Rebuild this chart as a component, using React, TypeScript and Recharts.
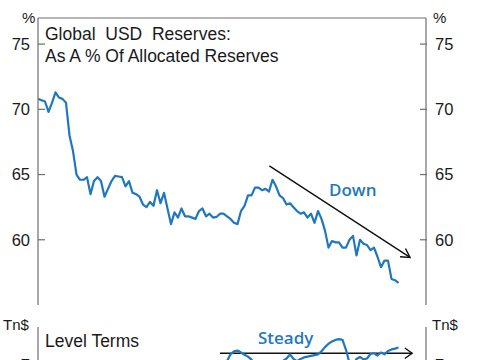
import React from 'react';
import { LineChart, Line, XAxis, YAxis, ReferenceLine } from 'recharts';

// Global USD reserves as % of allocated reserves (quarterly)
const reservesShare: number[] = [
  70.8, 70.7, 70.6, 69.8, 70.5, 71.3, 70.9, 70.8, 70.5, 68.0,
  66.8, 65.0, 64.6, 64.6, 64.8, 63.5, 64.5, 64.8, 64.5, 63.3,
  63.9, 64.5, 64.9, 64.85, 64.8, 64.1, 64.5, 63.6, 63.5, 63.3,
  62.7, 62.5, 62.9, 62.6, 63.8, 62.8, 63.6, 62.4, 61.2, 62.1,
  61.7, 62.4, 61.8, 61.8, 61.7, 61.6, 62.2, 62.4, 61.8, 62.0,
  61.7, 61.75, 62.0, 62.0, 61.8, 61.6, 61.3, 61.2, 62.2, 62.6,
  63.4, 63.4, 64.0, 64.0, 63.8, 63.9, 63.7, 64.6, 64.1, 63.4,
  63.2, 62.7, 62.8, 62.5, 62.2, 62.0, 62.1, 61.7, 62.0, 61.3,
  62.2, 61.6, 60.7, 59.4, 59.9, 59.8, 59.8, 59.4, 59.4, 60.0,
  60.3, 58.8, 60.0, 59.7, 59.6, 59.2, 59.4, 58.7, 57.9, 58.4,
  58.4, 57.0, 56.9, 56.7,
];

// Level terms (Tn$), only the visible upper part of the lower panel
const levelStartIndex = 53;
const levelTerms: number[] = [
  6.95, 7.1, 7.28, 7.36, 7.38, 7.33, 7.27, 7.22, 7.14, 7.02,
  6.95, 6.9, 6.9, 6.95, 6.98, 7.0, 7.05, 7.11, 7.17, 7.28,
  7.16, 7.1, 7.16, 7.2, 7.22, 7.24, 7.26, 7.28, 7.36, 7.47,
  7.56, 7.62, 7.66, 7.68, 7.66, 7.4, 7.05, 7.0, 7.16, 7.21,
  7.15, 7.17, 7.29, 7.31, 7.25, 7.33, 7.28, 7.37, 7.41, 7.43,
  7.46,
];

const topTicks = [60, 65, 70, 75];
const topDomain: [number, number] = [55, 77];
const bottomTicks = [7];
const bottomDomain: [number, number] = [0, 8];
const xDomain: [number, number] = [0, 110.86];

// Trend arrows in data coordinates
const downArrow = [{ x: 66.1, y: 65.66 }, { x: 106.3, y: 58.65 }];
const steadyArrow = [{ x: 52, y: 7.31 }, { x: 106.9, y: 7.31 }];

const topData = reservesShare.map((v, i) => ({ i, v }));
const bottomData = levelTerms.map((v, k) => ({ i: k + levelStartIndex, v }));

const BLUE = '#1f78bf';
const AXIS = '#6e6e6e';
const TEXT = '#1a1a1a';
const FONT = '"Liberation Sans", Arial, sans-serif';

const makeTick = (side: 'left' | 'right') => (props: any) => {
  const { x, y, payload } = props;
  const axisX = side === 'left' ? x + 8 : x - 8;
  const inner = side === 'left' ? axisX + 7 : axisX - 7;
  return (
    <g>
      <line x1={axisX} x2={inner} y1={y} y2={y} stroke={AXIS} strokeWidth={1.2} />
      <text
        x={x}
        y={y}
        dy="0.36em"
        textAnchor={side === 'left' ? 'end' : 'start'}
        fontSize={16.5}
        fontFamily={FONT}
        fill={TEXT}
      >
        {payload.value}
      </text>
    </g>
  );
};

const makeArrow = (head: number, spread: number) => (p: any) => {
  const { x1, y1, x2, y2 } = p;
  const a = Math.atan2(y2 - y1, x2 - x1);
  const ax = x2 - head * Math.cos(a - spread);
  const ay = y2 - head * Math.sin(a - spread);
  const bx = x2 - head * Math.cos(a + spread);
  const by = y2 - head * Math.sin(a + spread);
  return (
    <g>
      <line x1={x1} y1={y1} x2={x2} y2={y2} stroke="#111" strokeWidth={1.4} />
      <polyline
        points={`${ax},${ay} ${x2},${y2} ${bx},${by}`}
        fill="none"
        stroke="#111"
        strokeWidth={1.4}
      />
    </g>
  );
};

export default function App() {
  return (
    <div
      style={{
        position: 'fixed',
        left: 0,
        top: 0,
        width: 485,
        height: 360,
        overflow: 'hidden',
        background: '#fff',
      }}
    >
      <div style={{ position: 'absolute', left: 0, top: 0 }}>
        <LineChart
          width={485}
          height={305}
          data={topData}
          margin={{ top: 18, right: 0, bottom: 0, left: 0 }}
        >
          <XAxis dataKey="i" type="number" domain={xDomain} hide allowDataOverflow />
          <YAxis
            yAxisId="l"
            orientation="left"
            width={38}
            domain={topDomain}
            ticks={topTicks}
            allowDataOverflow
            tickLine={false}
            tickSize={6}
            tickMargin={2}
            axisLine={{ stroke: AXIS, strokeWidth: 1.2 }}
            tick={makeTick('left')}
          />
          <YAxis
            yAxisId="r"
            orientation="right"
            width={59}
            domain={topDomain}
            ticks={topTicks}
            allowDataOverflow
            tickLine={false}
            tickSize={6}
            tickMargin={3}
            axisLine={{ stroke: AXIS, strokeWidth: 1.2 }}
            tick={makeTick('right')}
          />
          <ReferenceLine yAxisId="l" y={77} stroke={AXIS} strokeWidth={1.2} />
          <ReferenceLine yAxisId="l" segment={downArrow} shape={makeArrow(10, 0.52)} />
          <Line
            yAxisId="l"
            dataKey="v"
            type="linear"
            stroke={BLUE}
            strokeWidth={2.2}
            dot={false}
            strokeLinejoin="round"
            isAnimationActive={false}
          />
        </LineChart>
      </div>
      <div style={{ position: 'absolute', left: 0, top: 327 }}>
        <LineChart
          width={485}
          height={304}
          data={bottomData}
          margin={{ top: 0, right: 0, bottom: 0, left: 0 }}
        >
          <XAxis dataKey="i" type="number" domain={xDomain} hide allowDataOverflow />
          <YAxis
            yAxisId="l"
            orientation="left"
            width={38}
            domain={bottomDomain}
            ticks={bottomTicks}
            allowDataOverflow
            tickLine={false}
            tickSize={6}
            tickMargin={2}
            axisLine={{ stroke: AXIS, strokeWidth: 1.2 }}
            tick={makeTick('left')}
          />
          <YAxis
            yAxisId="r"
            orientation="right"
            width={59}
            domain={bottomDomain}
            ticks={bottomTicks}
            allowDataOverflow
            tickLine={false}
            tickSize={6}
            tickMargin={3}
            axisLine={{ stroke: AXIS, strokeWidth: 1.2 }}
            tick={makeTick('right')}
          />
          <ReferenceLine yAxisId="l" segment={steadyArrow} shape={makeArrow(9, 0.62)} />
          <Line
            yAxisId="l"
            dataKey="v"
            type="linear"
            stroke={BLUE}
            strokeWidth={2.2}
            dot={false}
            strokeLinejoin="round"
            isAnimationActive={false}
          />
        </LineChart>
      </div>
      <svg
        width={485}
        height={360}
        style={{ position: 'absolute', left: 0, top: 0, pointerEvents: 'none' }}
      >
        <g fontFamily={FONT} fill={TEXT}>
          <text x={45} y={39.5} fontSize={17.5} style={{ whiteSpace: 'pre' }}>
            {'Global  USD  Reserves:'}
          </text>
          <text x={45} y={61.5} fontSize={17.5}>
            As A % Of Allocated Reserves
          </text>
          <text x={22} y={23} fontSize={15}>%</text>
          <text x={433} y={23} fontSize={15}>%</text>
          <text x={3} y={330} fontSize={15}>Tn$</text>
          <text x={432} y={330} fontSize={15}>Tn$</text>
          <text x={45} y={347} fontSize={17.5}>Level Terms</text>
        </g>
        <g fontFamily='"Open Sans", sans-serif' fontWeight={600} fill={BLUE} fontSize={17}>
          <text x={329} y={195.5}>Down</text>
          <text x={258} y={343.5}>Steady</text>
        </g>
      </svg>
    </div>
  );
}
